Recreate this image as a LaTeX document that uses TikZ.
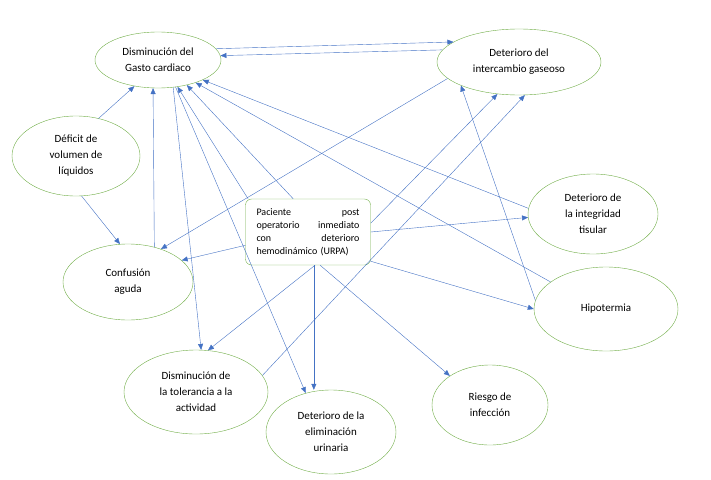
\documentclass[tikz,border=0pt]{standalone}
\usepackage{fontspec}
\setmainfont{Carlito}
\usetikzlibrary{positioning}
\usetikzlibrary{arrows.meta}
\usetikzlibrary{shapes.geometric}
\definecolor{leafgreen}{HTML}{70AD47}
\definecolor{linkblue}{HTML}{4472C4}
\tikzset {
  % elliptic diagnosis node
  main/.style = {draw=leafgreen, ellipse, inner sep=0pt, align=center,
    font=\fontsize{11}{16}\selectfont},
  % central patient box
  patient/.style = {draw=leafgreen, rounded corners=6pt, minimum width=125pt,
    minimum height=66pt, text width=103pt, align=left,
    font=\fontsize{10}{13}\selectfont},
  link/.style = {linkblue, -{Triangle[length=6pt,width=5pt]}},
}
\begin{document}
\begin{tikzpicture}[x=1pt, y=-1pt]
      \useasboundingbox (0,0) rectangle (711,479);

      \node[main, minimum width=126pt, minimum height=56pt] (gc) at (158,60) {Disminución del\\Gasto cardiaco};
      \node[main, minimum width=164pt, minimum height=66pt] (di) at (519,62) {Deterioro del\\intercambio gaseoso};
      \node[main, minimum width=128pt, minimum height=80pt] (dv) at (76,156) {Déficit de\\volumen de\\líquidos};
      \node[main, minimum width=130pt, minimum height=76pt] (ca) at (128,282) {Confusión\\aguda};
      \node[main, minimum width=130pt, minimum height=80pt] (it) at (593,214) {Deterioro de\\la integridad\\tisular};
      \node[main, minimum width=144pt, minimum height=84pt] (hi) at (606,309) {Hipotermia};
      \node[main, minimum width=144pt, minimum height=84pt] (ta) at (196,392) {Disminución de\\la tolerancia a la\\actividad};
      \node[main, minimum width=130pt, minimum height=84pt] (eu) at (331,432) {Deterioro de la\\eliminación\\urinaria};
      \node[main, minimum width=116pt, minimum height=80pt] (ri) at (490,405) {Riesgo de\\infección};

      \node[patient] (p) at (308,232) {Paciente \hfill post\\operatorio \hfill inmediato\\con \hfill deterioro\\hemodinámico (URPA)};

      \draw [link] (gc.11) -- (di.163);
      \draw [link] (di.171) -- (gc.4);
      \draw [link] (dv.59) -- (gc.228);
      \draw [link] (dv.278) -- (ca.102);
      \draw [link] (ca.53) -- (gc.260);
      \draw [link] (di.193) -- (ca.45);
      \draw [link] (p.192) -- (ca.22);
      \draw [link] (p.114) -- (gc.319);
      \draw [link] (p.151) -- (gc.306);
      \draw [link] (gc.299) -- (ta.83);
      \draw [link] (gc.303) -- (eu.123);
      \draw [link] (it.175) -- (gc.336);
      \draw [link] (hi.154) -- (gc.329);
      \draw [link] (p.0) -- (it.183);
      \draw [link] (p.8) -- (di.236);
      \draw [link] (ta.14) -- (di.280);
      \draw [link] (hi.173) -- (di.202);
      \draw [link] (p.335) -- (hi.180);
      \draw [link] (p.282) -- (ta.74);
      \draw [link] (p.280) -- (p.280 |- eu.north);
      \draw [link] (p.290) -- (ri.144);
\end{tikzpicture}
\end{document}
